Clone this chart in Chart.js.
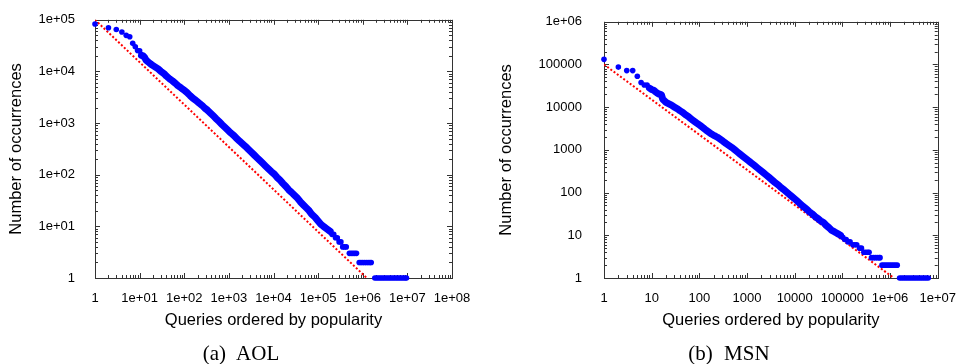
<!DOCTYPE html>
<html>
<head>
<meta charset="utf-8">
<script src="https://cdn.jsdelivr.net/npm/chart.js@4.4.1/dist/chart.umd.min.js"></script>
<style>
  html, body { margin: 0; padding: 0; background: #fff; }
  #wrap { position: relative; width: 961px; height: 364px; overflow: hidden; }
  canvas { position: absolute; top: 0; }
  #aol { left: 0; }
  #msn { left: 480px; }
  .cap { position: absolute; top: 340px; width: 200px; line-height: 26px; text-align: center;
         font-family: 'Liberation Serif', serif; font-size: 21px; color: #000; word-spacing: 6px; }
</style>
</head>
<body>
<div id="wrap">
  <canvas id="aol" width="480" height="364"></canvas>
  <canvas id="msn" width="481" height="364"></canvas>
  <div class="cap" style="left:141px">(a) AOL</div>
  <div class="cap" style="left:629px">(b) MSN</div>
</div>
<script>
// ---- AOL ----
const aolHeadRank = [1, 2, 3, 4, 5, 6, 7, 8, 9, 10];
const aolHeadCount = [83000, 70000, 65000, 58000, 50000, 47000, 35000, 30000, 25500, 25000];

const aolRank = [11, 12, 13, 14, 16, 18, 20, 23, 26, 30, 35, 40, 47, 54, 63, 72, 85, 100, 115, 135,
  158, 182, 214, 251, 288, 331, 389, 447, 525, 603, 708, 813, 955, 1100, 1290, 1480, 1740, 2000, 2340, 2690,
  3160, 3630, 4270, 4900, 5750, 6600, 7760, 8910, 10500, 12000, 14100, 16200, 19000, 21900, 25700, 29500,
  34700, 39800, 46800, 53700, 63100, 72400, 85100, 97700, 115000, 132000, 155000, 186000];
const aolCount = [20500, 20000, 18500, 16500, 15000, 13800, 13000, 12000, 11200, 10000, 9100, 8100, 7200, 6600,
  5900, 5300, 4800, 4300, 3900, 3400, 3000, 2750, 2450, 2200, 1950, 1780, 1550, 1380, 1200, 1070, 930, 830, 725,
  645, 575, 510, 445, 400, 355, 315, 275, 245, 214, 190, 166, 148, 129, 115, 102, 89, 78, 68, 59, 51, 45, 40,
  35, 30, 26, 23, 20, 17, 15, 13, 11, 10, 9, 8];

const aolTailRank = [204000, 224000, 245000, 269000, 295000, 324000, 355000, 389000, 427000, 501000, 550000,
  603000, 661000, 724000, 832000, 912000, 1000000, 1096000, 1202000, 1318000, 1445000, 1549000, 1862000,
  2042000, 2239000, 2455000, 2692000, 2951000, 3236000, 3548000, 3890000, 4266000, 4677000, 5129000, 5623000,
  6166000, 6761000, 7413000, 8128000, 8913000, 9550000];
const aolTailCount = [7, 7, 6, 6, 5, 5, 4, 4, 4, 3, 3, 3, 3, 3, 2, 2, 2, 2, 2, 2, 2, 2,
  1, 1, 1, 1, 1, 1, 1, 1, 1, 1, 1, 1, 1, 1, 1, 1, 1, 1, 1];

const aolFitRank = [1, 1230000];
const aolFitCount = [100000, 1];

const aolXTickLabels = ['1', '1e+01', '1e+02', '1e+03', '1e+04', '1e+05', '1e+06', '1e+07', '1e+08'];
const aolYTickLabels = ['1', '1e+01', '1e+02', '1e+03', '1e+04', '1e+05'];

// ---- MSN ----
const msnHeadRank = [1, 2, 3, 4, 5, 6, 7, 8];
const msnHeadCount = [132000, 87000, 72000, 72000, 53000, 38000, 33000, 33000];

const msnRank = [9, 10, 11, 12, 13, 14, 15, 16, 17, 18, 20, 23, 26, 30, 34, 39, 45, 52, 60, 70, 80, 92, 105,
  120, 138, 158, 180, 207, 238, 273, 313, 360, 413, 475, 545, 625, 720, 825, 950, 1090, 1250, 1440, 1650, 1900,
  2180, 2500, 2880, 3300, 3800, 4370, 5000, 5750, 6600, 7600, 8700, 10000, 11500, 13200, 15200, 17400, 20000,
  23000, 26300, 30200, 34700, 40000, 46000, 52500, 60000, 69000, 79000, 91000];
const msnCount = [28000, 26000, 25000, 23000, 21500, 20500, 20000, 19500, 15500, 14500, 13000, 12000, 11200,
  10000, 9300, 8300, 7500, 6600, 5900, 5100, 4600, 4100, 3700, 3300, 2900, 2600, 2350, 2150, 1980, 1780, 1600,
  1420, 1280, 1150, 1020, 900, 790, 700, 620, 550, 485, 430, 380, 335, 295, 260, 228, 200, 175, 155, 136, 120,
  105, 92, 81, 71, 62, 54, 47, 42, 36, 32, 28, 25, 22, 20, 17, 15, 13, 12, 11, 10];

const msnTailRank = [102000, 112000, 120000, 132000, 145000, 166000, 182000, 200000, 229000, 251000, 282000,
  309000, 339000, 363000, 407000, 447000, 490000, 537000, 589000, 617000, 676000, 741000, 813000, 891000,
  977000, 1072000, 1175000, 1288000, 1413000, 1585000, 1738000, 1905000, 2089000, 2291000, 2512000, 2754000,
  3020000, 3311000, 3631000, 3981000, 4365000, 4786000, 5248000, 5754000, 6310000];
const msnTailCount = [9, 8, 8, 7, 7, 6, 6, 6, 5, 5, 4, 4, 4, 4, 3, 3, 3, 3, 3, 3, 2, 2, 2, 2, 2, 2, 2, 2, 2,
  1, 1, 1, 1, 1, 1, 1, 1, 1, 1, 1, 1, 1, 1, 1, 1];

const msnFitRank = [1, 1200000];
const msnFitCount = [100000, 1];

const msnXTickLabels = ['1', '10', '100', '1000', '10000', '100000', '1e+06', '1e+07'];
const msnYTickLabels = ['1', '10', '100', '1000', '10000', '100000', '1e+06'];

const BLUE = '#0000ff';
const RED = '#ff0000';
const TICK_FONT = { family: 'Liberation Sans', size: 13 };
const TITLE_FONT = { family: 'Liberation Sans', size: 16.5 };

function pts(xs, ys) {
  return xs.map((x, i) => ({ x: x, y: ys[i] }));
}

// gnuplot-like log ticks: 1..9 in every decade
function logTicks(scale) {
  const ticks = [];
  for (let e = 0; Math.pow(10, e) <= scale.max; e++) {
    for (let m = 1; m <= 9; m++) {
      const v = m * Math.pow(10, e);
      if (v > scale.max) break;
      ticks.push({ value: v, major: m === 1 });
    }
  }
  scale.ticks = ticks;
}

// frame and inward ticks on all four sides
const frameTicks = {
  id: 'frameTicks',
  beforeDatasetsDraw(chart) {
    const { ctx, chartArea: a, scales: { x, y } } = chart;
    ctx.save();
    ctx.strokeStyle = '#333';
    ctx.lineWidth = 1;
    ctx.beginPath();
    x.ticks.forEach(t => {
      const px = Math.round(x.getPixelForValue(t.value)) + 0.5;
      const len = t.major ? 5 : 3;
      ctx.moveTo(px, a.bottom); ctx.lineTo(px, a.bottom - len);
      ctx.moveTo(px, a.top); ctx.lineTo(px, a.top + len);
    });
    y.ticks.forEach(t => {
      const py = Math.round(y.getPixelForValue(t.value)) + 0.5;
      const len = t.major ? 5 : 3;
      ctx.moveTo(a.left, py); ctx.lineTo(a.left + len, py);
      ctx.moveTo(a.right, py); ctx.lineTo(a.right - len, py);
    });
    ctx.stroke();
    ctx.strokeRect(Math.round(a.left) + 0.5, Math.round(a.top) + 0.5,
      Math.round(a.right - a.left), Math.round(a.bottom - a.top));
    ctx.restore();
  }
};

function makeChart(id, d) {
  return new Chart(document.getElementById(id), {
    type: 'scatter',
    data: {
      datasets: [
        {
          data: pts(d.headRank, d.headCount).concat(pts(d.tailRank, d.tailCount)),
          backgroundColor: BLUE, borderWidth: 0, pointRadius: 2.8, showLine: false, clip: false
        },
        {
          data: pts(d.rank, d.count),
          showLine: true, pointRadius: 0, borderColor: BLUE, borderWidth: 7,
          borderCapStyle: 'round', borderJoinStyle: 'round', clip: false
        },
        {
          data: pts(d.fitRank, d.fitCount),
          showLine: true, pointRadius: 0, borderColor: RED, borderWidth: 2, borderDash: [2, 2]
        }
      ]
    },
    options: {
      responsive: false,
      animation: false,
      devicePixelRatio: 1,
      layout: { padding: { top: 11, right: d.padRight, left: 0, bottom: 0 } },
      plugins: { legend: { display: false }, tooltip: { enabled: false } },
      scales: {
        x: {
          type: 'logarithmic', min: 1, max: d.xMax,
          afterBuildTicks: logTicks,
          afterFit: s => { s.height = 86; },
          grid: { display: false }, border: { display: false },
          ticks: {
            autoSkip: false, maxRotation: 0, minRotation: 0, padding: 5, color: '#000', font: TICK_FONT,
            callback: v => {
              const e = Math.round(Math.log10(v));
              return Math.abs(v - Math.pow(10, e)) < 1e-6 ? d.xLabels[e] : '';
            }
          },
          title: {
            display: true, text: 'Queries ordered by popularity', color: '#000', font: TITLE_FONT,
            padding: { top: 0, bottom: 34 }
          }
        },
        y: {
          type: 'logarithmic', min: 1, max: d.yMax,
          afterBuildTicks: logTicks,
          afterFit: s => { s.width = d.yWidth; },
          grid: { display: false }, border: { display: false },
          ticks: {
            autoSkip: false, padding: d.yPad, color: '#000', font: TICK_FONT,
            callback: v => {
              const e = Math.round(Math.log10(v));
              return Math.abs(v - Math.pow(10, e)) < 1e-6 ? d.yLabels[e] : '';
            }
          },
          title: {
            display: true, text: 'Number of occurrences', color: '#000', font: TITLE_FONT,
            padding: { top: d.yTitlePad, bottom: 0 }
          }
        }
      }
    },
    plugins: [frameTicks]
  });
}

makeChart('aol', {
  headRank: aolHeadRank, headCount: aolHeadCount, rank: aolRank, count: aolCount,
  tailRank: aolTailRank, tailCount: aolTailCount, fitRank: aolFitRank, fitCount: aolFitCount,
  xLabels: aolXTickLabels, yLabels: aolYTickLabels,
  xMax: 1e8, yMax: 1e5, padRight: 28, yWidth: 95, yPad: 12, yTitlePad: 7
});

makeChart('msn', {
  headRank: msnHeadRank, headCount: msnHeadCount, rank: msnRank, count: msnCount,
  tailRank: msnTailRank, tailCount: msnTailCount, fitRank: msnFitRank, fitCount: msnFitCount,
  xLabels: msnXTickLabels, yLabels: msnYTickLabels,
  xMax: 1e7, yMax: 1e6, padRight: 19, yWidth: 124, yPad: 14, yTitlePad: 17
});
</script>
</body>
</html>
